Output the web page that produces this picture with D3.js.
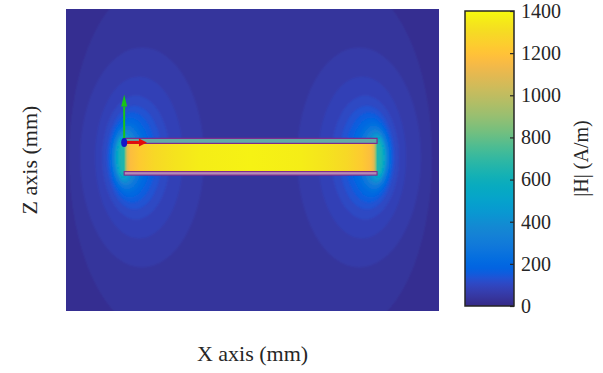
<!DOCTYPE html>
<html>
<head>
<meta charset="utf-8">
<script src="https://cdn.jsdelivr.net/npm/d3@7"></script>
<style>
  html, body { margin: 0; padding: 0; background: #fff; }
  svg { display: block; }
  text { font-family: "Liberation Serif", "Times New Roman", serif; fill: #262626; }
</style>
</head>
<body>
<svg id="chart" width="603" height="373"></svg>
<script>
// ---- Coil geometry (mm) ----
const coilX = [0, 100];
const topWallZ = [5.6, 7.6];
const bottomWallZ = [-7.0, -5.6];

// ---- |H| along the bore of the coil (mm, A/m) ----
const boreX = [0, 0.6, 1.2, 2.4, 6, 12, 20, 30, 50, 70, 80, 88, 94, 97.6, 98.8, 99.4, 100];
const boreH = [700, 900, 1080, 1170, 1230, 1290, 1330, 1360, 1375, 1360, 1330, 1290, 1230, 1170, 1080, 900, 700];

// ---- Iso-|H| rings around each coil end ----
// level (A/m), centre offset from the end towards the coil middle (mm), semi-axes (mm)
// the first ring is the outer envelope that joins both ends
const ringLevel = [38, 60, 82, 105, 130, 160, 195, 235, 280, 330, 390, 450, 520, 590, 650];
const ringDx    = [10.3, 7.1, 5.9, 4.7, 4.0, 3.2, 2.4, 1.6, 1.2, 0.8, 0.4, 0.0, -0.4, -0.4, -0.4];
const ringRx    = [32.0, 24.5, 17.4, 13.4, 11.0, 9.4, 8.1, 7.0, 6.0, 5.1, 4.3, 3.5, 2.8, 2.1, 1.4];
const ringRy    = [68.3, 43.7, 32.2, 24.6, 20.6, 18.0, 15.8, 14.0, 12.5, 11.2, 10.1, 9.1, 8.2, 7.3, 6.4];
const farFieldH = 18;

// ---- Coordinate triad at the origin (mm) ----
const triadOrigin = [0, 6];
const triadX = [9, 0];
const triadZ = [0, 19];

// ---- Colour bar ----
const colorbarTicks = [0, 200, 400, 600, 800, 1000, 1200, 1400];
const hRange = [0, 1400];

// parula colour map
const parula = ["#352a87","#363093","#3637a0","#353dad","#3243ba","#2c4ac7","#2053d4","#0f5cdd",
  "#0363e1","#0268e1","#046de0","#0871de","#0d75dc","#1079da","#127dd8","#1481d6",
  "#1485d4","#1389d3","#108ed2","#0c93d2","#0998d1","#079ccf","#06a0cd","#06a4ca",
  "#06a7c6","#07a9c2","#0aacbe","#0faeb9","#15b1b4","#1db3af","#25b5a9","#2eb7a4",
  "#38b99e","#42bb98","#4dbc92","#59bd8c","#65be86","#71bf80","#7cbf7b","#87bf77",
  "#92bf73","#9cbf6f","#a5be6b","#aebe67","#b7bd64","#c0bc60","#c8bc5d","#d1bb59",
  "#d9ba56","#e1b952","#e9b94e","#f1b94a","#f8bb44","#fdbe3d","#ffc337","#fec832",
  "#fcce2e","#fad32a","#f7d826","#f5de21","#f5e41d","#f5eb18","#f6f313","#f9fb0e"];

const svg = d3.select("#chart");
const plot = { left: 66, right: 439, top: 9, bottom: 311 };

const x = d3.scaleLinear().domain([-23, 124.5]).range([plot.left, plot.right]);
const z = d3.scaleLinear().domain([-61, 59]).range([plot.bottom, plot.top]);
const color = d3.scaleSequential(d3.piecewise(d3.interpolateRgb, parula)).domain(hRange).clamp(true);

const defs = svg.append("defs");
defs.append("clipPath").attr("id", "plotClip")
  .append("rect")
  .attr("x", plot.left).attr("y", plot.top)
  .attr("width", plot.right - plot.left).attr("height", plot.bottom - plot.top);
defs.append("filter").attr("id", "soft")
  .attr("x", "-5%").attr("y", "-5%").attr("width", "110%").attr("height", "110%")
  .append("feGaussianBlur").attr("stdDeviation", 1.1);

const field = svg.append("g").attr("clip-path", "url(#plotClip)");
const halo = field.append("g").attr("filter", "url(#soft)");

// far field
halo.append("rect")
  .attr("x", plot.left - 10).attr("y", plot.top - 10)
  .attr("width", plot.right - plot.left + 20).attr("height", plot.bottom - plot.top + 20)
  .attr("fill", color(farFieldH));

const sx = v => x(v) - x(0);
const sz = v => z(0) - z(v);
const cy = z(0);

// outer envelope joining both coil ends
{
  const cxL = x(coilX[0] + ringDx[0]);
  const cxR = x(coilX[1] - ringDx[0]);
  const rx = sx(ringRx[0]), ry = sz(ringRy[0]);
  halo.append("path")
    .attr("d", `M${cxL},${cy - ry} A${rx},${ry} 0 0 0 ${cxL},${cy + ry} L${cxR},${cy + ry} A${rx},${ry} 0 0 0 ${cxR},${cy - ry} Z`)
    .attr("fill", color(ringLevel[0]));
}

// nested rings at each end
const ends = [{ x0: coilX[0], dir: 1 }, { x0: coilX[1], dir: -1 }];
const rings = d3.range(1, ringLevel.length);
ends.forEach(e => {
  halo.append("g").selectAll("ellipse").data(rings).join("ellipse")
    .attr("cx", i => x(e.x0 + e.dir * ringDx[i]))
    .attr("cy", cy)
    .attr("rx", i => sx(ringRx[i]))
    .attr("ry", i => sz(ringRy[i]))
    .attr("fill", i => color(ringLevel[i]));
});

// bore of the coil
const bore = defs.append("linearGradient").attr("id", "boreGrad")
  .attr("gradientUnits", "userSpaceOnUse")
  .attr("x1", x(coilX[0])).attr("x2", x(coilX[1])).attr("y1", 0).attr("y2", 0);
bore.selectAll("stop").data(boreX).join("stop")
  .attr("offset", (d) => (x(d) - x(coilX[0])) / (x(coilX[1]) - x(coilX[0])))
  .attr("stop-color", (d, i) => color(boreH[i]));

field.append("rect")
  .attr("x", x(coilX[0])).attr("width", x(coilX[1]) - x(coilX[0]))
  .attr("y", z(topWallZ[0])).attr("height", z(bottomWallZ[1]) - z(topWallZ[0]))
  .attr("fill", "url(#boreGrad)");

// coil walls
field.append("rect")
  .attr("x", x(coilX[0])).attr("width", x(coilX[1]) - x(coilX[0]))
  .attr("y", z(topWallZ[1])).attr("height", z(topWallZ[0]) - z(topWallZ[1]))
  .attr("fill", "#63aaa6").attr("stroke", "#7d2b8e").attr("stroke-width", 1.2);
field.append("rect")
  .attr("x", x(coilX[0])).attr("width", x(coilX[1]) - x(coilX[0]))
  .attr("y", z(bottomWallZ[1])).attr("height", z(bottomWallZ[0]) - z(bottomWallZ[1]))
  .attr("fill", "#b58ab6").attr("stroke", "#7d2b8e").attr("stroke-width", 1.1);

// coordinate triad
{
  const ox = x(triadOrigin[0]), oy = z(triadOrigin[1]);
  const axes = [
    { tx: x(triadOrigin[0] + triadX[0]), ty: z(triadOrigin[1] + triadX[1]), c: "#e30b0b", w: 3, hl: 8, hw: 4 },
    { tx: x(triadOrigin[0] + triadZ[0]), ty: z(triadOrigin[1] + triadZ[1]), c: "#18c418", w: 2, hl: 12, hw: 3 }
  ];
  axes.forEach(a => {
    const dx = a.tx - ox, dy = a.ty - oy, L = Math.hypot(dx, dy);
    const ux = dx / L, uy = dy / L, px = -uy, py = ux;
    const bx = a.tx - ux * a.hl, by = a.ty - uy * a.hl;
    field.append("line")
      .attr("x1", ox).attr("y1", oy).attr("x2", bx).attr("y2", by)
      .attr("stroke", a.c).attr("stroke-width", a.w);
    field.append("path")
      .attr("d", `M${a.tx},${a.ty} L${bx + px * a.hw},${by + py * a.hw} L${bx - px * a.hw},${by - py * a.hw} Z`)
      .attr("fill", a.c);
  });
  field.append("ellipse")
    .attr("cx", ox).attr("cy", oy).attr("rx", 3).attr("ry", 4.5)
    .attr("fill", "#1414c8");
}

// axis labels
svg.append("text")
  .attr("x", (plot.left + plot.right) / 2).attr("y", 361)
  .attr("text-anchor", "middle").attr("font-size", 22)
  .text("X axis (mm)");
svg.append("text")
  .attr("transform", `translate(37,${(plot.top + plot.bottom) / 2}) rotate(-90)`)
  .attr("text-anchor", "middle").attr("font-size", 22)
  .text("Z axis (mm)");

// ---- colour bar ----
const cb = { left: 465, right: 514, top: 11, bottom: 306 };
const cScale = d3.scaleLinear().domain(hRange).range([cb.bottom, cb.top]);

const cbGrad = defs.append("linearGradient").attr("id", "cbGrad")
  .attr("x1", 0).attr("x2", 0).attr("y1", 1).attr("y2", 0);
cbGrad.selectAll("stop").data(parula).join("stop")
  .attr("offset", (d, i) => i / (parula.length - 1))
  .attr("stop-color", d => d);

svg.append("rect")
  .attr("x", cb.left).attr("y", cb.top)
  .attr("width", cb.right - cb.left).attr("height", cb.bottom - cb.top)
  .attr("fill", "url(#cbGrad)");

const cbAxis = svg.append("g")
  .attr("transform", `translate(${cb.right},0)`)
  .call(d3.axisRight(cScale).tickValues(colorbarTicks).tickFormat(d3.format("d"))
    .tickSizeInner(-4).tickSizeOuter(0).tickPadding(7));
cbAxis.select(".domain").remove();
cbAxis.selectAll(".tick line").attr("stroke", "#262626").attr("stroke-width", 1.2);
cbAxis.selectAll(".tick text")
  .attr("font-size", 20).attr("font-family", "Liberation Serif").attr("fill", "#262626");

svg.append("rect")
  .attr("x", cb.left).attr("y", cb.top)
  .attr("width", cb.right - cb.left).attr("height", cb.bottom - cb.top)
  .attr("fill", "none").attr("stroke", "#262626").attr("stroke-width", 1.5);

svg.append("text")
  .attr("transform", `translate(588,${(cb.top + cb.bottom) / 2}) rotate(-90)`)
  .attr("text-anchor", "middle").attr("font-size", 20)
  .text("|H| (A/m)");
</script>
</body>
</html>
